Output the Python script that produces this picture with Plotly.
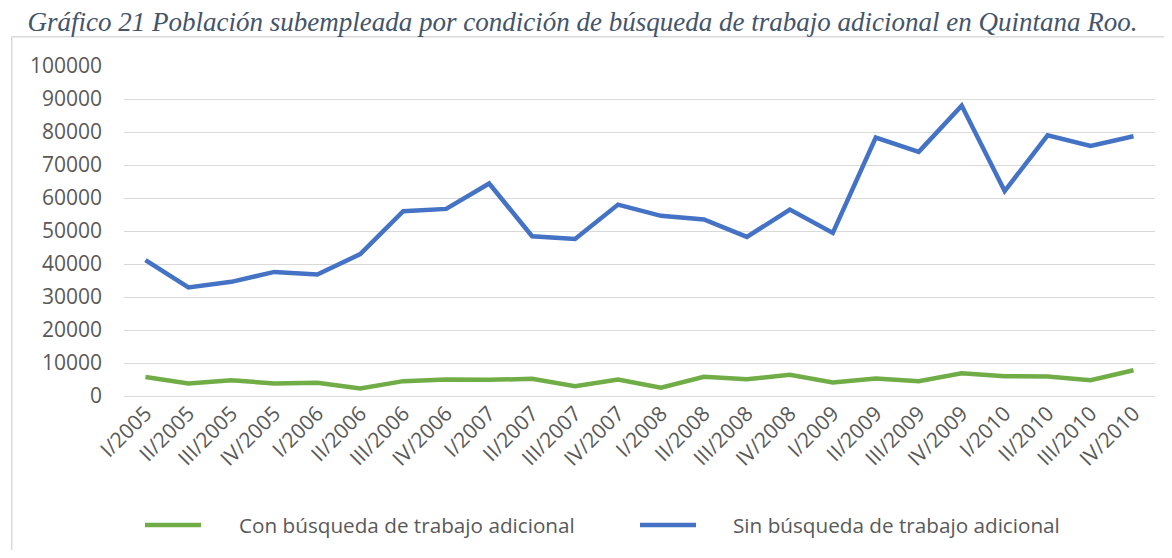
import plotly.graph_objects as go

categories = ["I/2005", "II/2005", "III/2005", "IV/2005",
              "I/2006", "II/2006", "III/2006", "IV/2006",
              "I/2007", "II/2007", "III/2007", "IV/2007",
              "I/2008", "II/2008", "III/2008", "IV/2008",
              "I/2009", "II/2009", "III/2009", "IV/2009",
              "I/2010", "II/2010", "III/2010", "IV/2010"]

con_busqueda = [5750, 3800, 4800, 3800, 4000, 2300, 4500, 5000, 4900, 5200, 3000, 5000,
                2500, 5800, 5100, 6400, 4100, 5300, 4500, 6900, 6000, 5900, 4800, 7800]

sin_busqueda = [41200, 32900, 34600, 37600, 36800, 43000, 56000, 56700, 64400, 48400, 47600, 58000,
                54600, 53500, 48200, 56500, 49400, 78300, 74000, 88000, 62100, 79000, 75800, 78700]

series_names = ["Con búsqueda de trabajo adicional", "Sin búsqueda de trabajo adicional"]
series_colors = ["#70AD47", "#4472C4"]

title_text = "Gráfico 21 Población subempleada por condición de búsqueda de trabajo adicional en Quintana Roo."

# the page has an 8px body margin; work in page pixels and convert
OFF = 8
W, H = 1172 - 2 * OFF, 558 - 2 * OFF
plot_left, plot_right, plot_top, plot_bottom = 124, 1155, 66, 396  # page pixels
L = plot_left - OFF
R = W - (plot_right - OFF)
T = plot_top - OFF
B = H - (plot_bottom - OFF)
pw, ph = W - L - R, H - T - B


def px2paper_x(px):
    return (px - OFF - L) / pw


def px2paper_y(py):
    return (H - B - (py - OFF)) / ph


fig = go.Figure()
for name, vals, col in zip(series_names, [con_busqueda, sin_busqueda], series_colors):
    fig.add_trace(go.Scatter(x=categories, y=vals, mode="lines", name=name,
                             line=dict(color=col, width=4.5), showlegend=False))

tick_font = dict(family="Open Sans, sans-serif", size=21, color="#595959")

fig.update_layout(
    width=W, height=H,
    margin=dict(l=L, r=R, t=T, b=B),
    paper_bgcolor="white", plot_bgcolor="white",
    title=dict(text=title_text, x=(582.5 - OFF) / W, xanchor="center", y=1 - (22 - OFF) / H, yanchor="middle",
               font=dict(family="Liberation Serif, Times New Roman, serif", size=27, color="#44546A",
                         style="italic")),
    xaxis=dict(type="category", tickangle=-45, showgrid=False, showline=False, ticks="",
               tickfont=tick_font, range=[-0.5, len(categories) - 0.5], fixedrange=True),
    yaxis=dict(range=[0, 100000], dtick=10000, showgrid=True, gridcolor="#D9D9D9", gridwidth=1.3,
               zeroline=True, zerolinecolor="#D9D9D9", zerolinewidth=1.3,
               tickfont=tick_font, ticks="", showline=False, ticklabelstandoff=21,
               tickformat="d", fixedrange=True),
)

# chart area border (top and left)
fig.add_shape(type="line", xref="paper", yref="paper",
              x0=px2paper_x(11.7), x1=px2paper_x(1180), y0=px2paper_y(36.7), y1=px2paper_y(36.7),
              line=dict(color="#D9D9D9", width=1.5))
fig.add_shape(type="line", xref="paper", yref="paper",
              x0=px2paper_x(11.7), x1=px2paper_x(11.7), y0=px2paper_y(36.7), y1=px2paper_y(570),
              line=dict(color="#D9D9D9", width=1.5))

# manual legend
legend_y = 525
legend_items = [(145, 201, 237), (640, 696, 731)]
for (lx0, lx1, tx), name, col in zip(legend_items, series_names, series_colors):
    fig.add_shape(type="line", xref="paper", yref="paper",
                  x0=px2paper_x(lx0), x1=px2paper_x(lx1),
                  y0=px2paper_y(legend_y), y1=px2paper_y(legend_y),
                  line=dict(color=col, width=4.5))
    fig.add_annotation(text=name, xref="paper", yref="paper", x=px2paper_x(tx), y=px2paper_y(legend_y),
                       xanchor="left", yanchor="middle", showarrow=False,
                       font=dict(family="Open Sans, sans-serif", size=20.7, color="#595959"))

fig.write_html("out.html")
